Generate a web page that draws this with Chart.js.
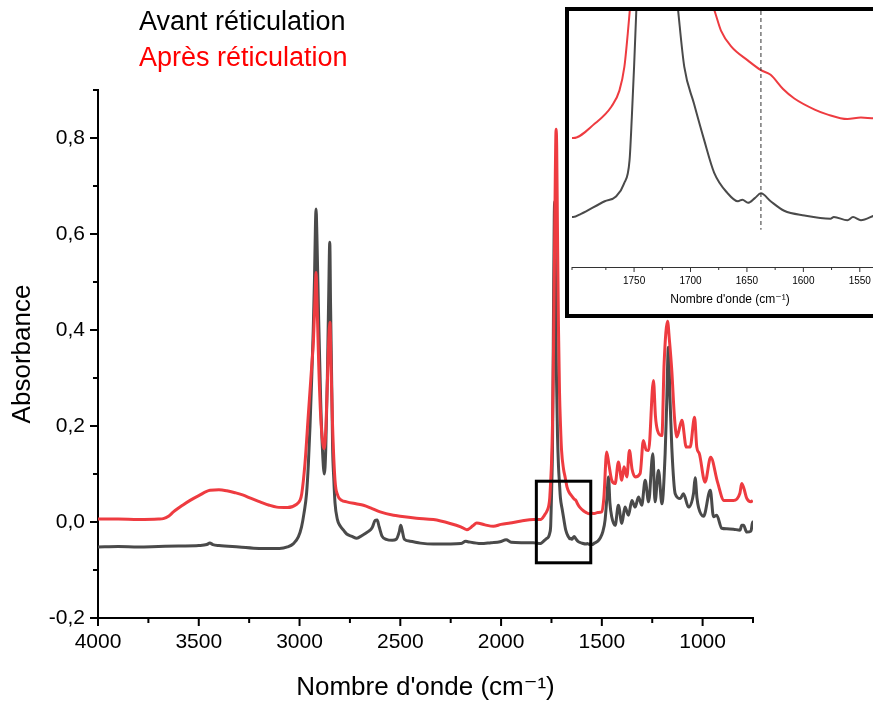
<!DOCTYPE html>
<html>
<head>
<meta charset="utf-8">
<script src="https://cdn.jsdelivr.net/npm/chart.js@4.4.1/dist/chart.umd.min.js"></script>
<style>
body { margin: 0; width: 873px; height: 703px; overflow: hidden; position: relative; background: #fff; }
#main { position: absolute; left: 0; top: 0; }
#insetBox { position: absolute; left: 565px; top: 7px; width: 330px; height: 303px; border: 4px solid #000; background: #fff; }
#inset { display: block; }
</style>
</head>
<body>
<canvas id="main" width="873" height="703"></canvas>
<div id="insetBox"><canvas id="inset" width="330" height="303"></canvas></div>
<script>
// Spectra (wavenumber in cm-1, absorbance)
const avantWn = [4000, 3900, 3800, 3700, 3600, 3500, 3460, 3445, 3430, 3400, 3300, 3200, 3100, 3060, 3030, 3006, 2990, 2978, 2965, 2956, 2948, 2940, 2932, 2926, 2921, 2918, 2914, 2905, 2895, 2885, 2877, 2870, 2862, 2855, 2850, 2846, 2840, 2836, 2830, 2824, 2812, 2799, 2780, 2766, 2740, 2716, 2690, 2660, 2640, 2625, 2615, 2605, 2590, 2570, 2540, 2520, 2505, 2498, 2492, 2480, 2452, 2400, 2337, 2250, 2200, 2175, 2165, 2100, 2050, 2005, 1975, 1950, 1900, 1840, 1804, 1797, 1776, 1766, 1759, 1754, 1752, 1750, 1748, 1745, 1742, 1739, 1736, 1734, 1732, 1729, 1725, 1720, 1715, 1711, 1705.5, 1697, 1688, 1679, 1667, 1658, 1654, 1649, 1643, 1637.6, 1629, 1617, 1599, 1576, 1573, 1561, 1556, 1549, 1537, 1520, 1509, 1495, 1484, 1475, 1467, 1460, 1451, 1434, 1418, 1401, 1385, 1368, 1351, 1335, 1318, 1302, 1285, 1268, 1247, 1236, 1219, 1202, 1186, 1178, 1170, 1162, 1153, 1136, 1111, 1095, 1070, 1045, 1037, 1028, 1020, 995, 962, 946, 930, 905, 880, 847, 814, 806, 797, 781, 760, 752, 750];
const avantAbs = [-0.052, -0.051, -0.052, -0.051, -0.050, -0.049, -0.047, -0.044, -0.047, -0.049, -0.052, -0.055, -0.055, -0.052, -0.045, -0.031, -0.010, 0.018, 0.060, 0.122, 0.200, 0.295, 0.400, 0.503, 0.620, 0.652, 0.600, 0.420, 0.250, 0.140, 0.100, 0.150, 0.300, 0.480, 0.583, 0.450, 0.280, 0.156, 0.090, 0.040, 0.005, -0.008, -0.018, -0.025, -0.030, -0.034, -0.028, -0.020, -0.012, 0.003, 0.004, -0.010, -0.030, -0.036, -0.038, -0.036, -0.020, -0.007, -0.015, -0.036, -0.040, -0.044, -0.046, -0.046, -0.045, -0.040, -0.041, -0.045, -0.043, -0.041, -0.037, -0.042, -0.043, -0.043, -0.045, -0.043, -0.035, -0.032, -0.024, -0.009, 0.018, 0.050, 0.086, 0.150, 0.300, 0.500, 0.640, 0.667, 0.620, 0.450, 0.300, 0.180, 0.115, 0.086, 0.050, 0.027, 0.004, -0.017, -0.030, -0.035, -0.034, -0.036, -0.033, -0.030, -0.035, -0.041, -0.044, -0.046, -0.045, -0.047, -0.045, -0.047, -0.044, -0.040, -0.034, -0.020, 0.004, 0.050, 0.094, 0.040, 0.011, -0.007, 0.035, -0.003, 0.031, 0.014, 0.045, 0.031, 0.052, 0.035, 0.087, 0.042, 0.142, 0.042, 0.108, 0.038, 0.142, 0.250, 0.364, 0.260, 0.156, 0.059, 0.049, 0.059, 0.031, 0.060, 0.092, 0.050, 0.030, 0.012, 0.066, 0.011, 0.014, -0.013, -0.014, -0.015, -0.017, -0.007, -0.007, -0.021, -0.019, 0.000, 0.000];

const apresWn = [4000, 3900, 3800, 3700, 3676, 3650, 3626, 3580, 3543, 3500, 3444, 3400, 3361, 3320, 3279, 3240, 3196, 3150, 3113, 3060, 3014, 2998, 2989, 2973, 2956, 2940, 2931, 2922, 2918, 2914, 2905, 2895, 2885, 2878, 2870, 2862, 2855, 2849, 2844, 2836, 2824, 2810, 2791, 2766, 2720, 2683, 2640, 2600, 2534, 2501, 2420, 2336, 2253, 2200, 2170, 2140, 2121, 2080, 2038, 2000, 1955, 1900, 1840, 1804, 1785, 1770, 1763, 1758.6, 1755.6, 1754, 1750, 1745, 1740, 1735, 1731, 1727, 1724, 1720, 1715, 1710, 1705, 1700, 1690, 1683, 1678, 1673, 1664, 1649, 1637.6, 1629, 1618, 1608, 1590, 1579, 1561, 1549, 1537, 1520, 1500, 1490, 1476, 1465, 1451, 1434, 1418, 1401, 1390, 1376, 1363, 1350, 1335, 1310, 1294, 1280, 1268, 1244, 1234, 1224, 1202, 1191, 1174, 1165, 1153, 1140, 1128, 1103, 1081, 1062, 1040, 1029, 1016, 988, 960, 926, 894, 847, 815, 806, 795, 781, 760, 751];
const apresAbs = [0.006, 0.006, 0.005, 0.006, 0.007, 0.012, 0.021, 0.035, 0.045, 0.055, 0.066, 0.067, 0.065, 0.061, 0.056, 0.049, 0.042, 0.035, 0.031, 0.030, 0.037, 0.045, 0.059, 0.122, 0.226, 0.322, 0.378, 0.480, 0.520, 0.470, 0.330, 0.220, 0.165, 0.153, 0.190, 0.290, 0.380, 0.416, 0.330, 0.200, 0.087, 0.055, 0.045, 0.042, 0.038, 0.035, 0.028, 0.021, 0.014, 0.012, 0.008, 0.005, -0.003, -0.010, -0.016, -0.008, -0.002, -0.006, -0.009, -0.005, -0.002, 0.002, 0.005, 0.005, 0.014, 0.025, 0.035, 0.050, 0.071, 0.084, 0.120, 0.200, 0.350, 0.550, 0.720, 0.818, 0.780, 0.600, 0.400, 0.270, 0.200, 0.150, 0.110, 0.095, 0.084, 0.073, 0.063, 0.054, 0.048, 0.045, 0.036, 0.030, 0.023, 0.020, 0.017, 0.018, 0.0175, 0.020, 0.021, 0.050, 0.146, 0.120, 0.087, 0.080, 0.125, 0.087, 0.115, 0.094, 0.149, 0.110, 0.094, 0.101, 0.170, 0.150, 0.149, 0.295, 0.220, 0.191, 0.180, 0.330, 0.418, 0.380, 0.316, 0.220, 0.177, 0.212, 0.156, 0.156, 0.218, 0.156, 0.142, 0.083, 0.135, 0.083, 0.045, 0.045, 0.060, 0.080, 0.070, 0.049, 0.042, 0.045];

const seriesLabels = ['Avant réticulation', 'Après réticulation'];
const lineColors = ['#4a4a4a', '#ee3b40'];
const legendColors = ['#000000', '#ff0000'];

// axis ranges and ticks
const xRange = [750, 4000];
const yRange = [-0.2, 0.9];
const zoomBox = [1825, 1555, -0.085, 0.085];   // x1, x2, y1, y2 of the framed region
const insetXRange = [1525, 1805];
const insetYRange = [-0.0766, 0.0854];
const insetMarker = [1637.6];

const FONT = "'Liberation Sans', Arial, 'DejaVu Sans', sans-serif";
const xTitle = "Nombre d'onde (cm\u207B\u00B9)";

const majorX = v => v % 500 === 0;
const majorY = v => Math.round(v * 10) % 2 === 0;
const majorInset = v => v % 50 === 0;

function toPoints(xs, ys) {
    return xs.map((x, i) => ({ x, y: ys[i] }));
}

// draws outside tick marks, long ones on labelled values
function tickMarks(tests, majorLen, minorLen, width, color) {
    return {
        id: 'tickMarks',
        afterDraw(chart) {
            const ctx = chart.ctx;
            ctx.save();
            ctx.strokeStyle = color;
            ctx.lineWidth = width;
            Object.values(chart.scales).forEach(s => {
                if (!s.options.display || !tests[s.id]) return;
                s.ticks.forEach(t => {
                    const len = tests[s.id](t.value) ? majorLen : minorLen;
                    const p = s.getPixelForValue(t.value);
                    ctx.beginPath();
                    if (s.isHorizontal()) {
                        ctx.moveTo(p, s.top);
                        ctx.lineTo(p, s.top + len);
                    } else {
                        ctx.moveTo(s.right, p);
                        ctx.lineTo(s.right - len, p);
                    }
                    ctx.stroke();
                });
            });
            ctx.restore();
        }
    };
}

const mainExtras = {
    id: 'mainExtras',
    afterDatasetsDraw(chart) {
        const { ctx, scales: { x, y } } = chart;
        ctx.save();
        ctx.strokeStyle = '#000';
        ctx.lineWidth = 3;
        const x1 = x.getPixelForValue(zoomBox[0]), x2 = x.getPixelForValue(zoomBox[1]);
        const y1 = y.getPixelForValue(zoomBox[3]), y2 = y.getPixelForValue(zoomBox[2]);
        ctx.strokeRect(x1, y1, x2 - x1, y2 - y1);
        // text legend
        ctx.font = '27px ' + FONT;
        ctx.textBaseline = 'middle';
        ctx.textAlign = 'left';
        seriesLabels.forEach((label, i) => {
            ctx.fillStyle = legendColors[i];
            ctx.fillText(label, 139, 23 + i * 36);
        });
        ctx.restore();
    }
};

const insetExtras = {
    id: 'insetExtras',
    afterDatasetsDraw(chart) {
        const { ctx, scales: { x, y } } = chart;
        ctx.save();
        ctx.strokeStyle = '#333';
        ctx.lineWidth = 1;
        ctx.setLineDash([4, 3]);
        insetMarker.forEach(m => {
            const px = x.getPixelForValue(m);
            ctx.beginPath();
            ctx.moveTo(px, 0);
            ctx.lineTo(px, y.getPixelForValue(-0.053));
            ctx.stroke();
        });
        ctx.restore();
    }
};

function makeDatasets(width) {
    return [
        { label: seriesLabels[0], data: toPoints(avantWn, avantAbs), borderColor: lineColors[0], borderWidth: width, order: 1 },
        { label: seriesLabels[1], data: toPoints(apresWn, apresAbs), borderColor: lineColors[1], borderWidth: width, order: 0 }
    ].map(d => Object.assign(d, { pointRadius: 0, cubicInterpolationMode: 'monotone', fill: false, borderJoinStyle: 'round' }));
}

new Chart(document.getElementById('main').getContext('2d'), {
    type: 'line',
    data: { datasets: makeDatasets(3) },
    options: {
        responsive: false,
        animation: false,
        devicePixelRatio: 1,
        layout: { padding: { top: 90, right: 120, left: 0, bottom: 0 } },
        plugins: { legend: { display: false }, tooltip: { enabled: false } },
        scales: {
            x: {
                type: 'linear',
                reverse: true,
                min: xRange[0],
                max: xRange[1],
                afterFit: s => { s.height = 85; },
                grid: { drawOnChartArea: false, tickLength: 8, tickColor: 'rgba(0,0,0,0)' },
                border: { color: '#000', width: 2 },
                ticks: {
                    stepSize: 250, autoSkip: false, maxRotation: 0, padding: 4,
                    color: '#000', font: { family: FONT, size: 21 },
                    callback: v => majorX(v) ? String(v) : ''
                },
                title: { display: true, text: xTitle, color: '#000', font: { family: FONT, size: 26 }, padding: { top: 0, bottom: 0 } }
            },
            y: {
                min: yRange[0],
                max: yRange[1],
                afterFit: s => { s.width = 98; },
                grid: { drawOnChartArea: false, tickLength: 8, tickColor: 'rgba(0,0,0,0)' },
                border: { color: '#000', width: 2 },
                ticks: {
                    stepSize: 0.1, autoSkip: false, padding: 5,
                    color: '#000', font: { family: FONT, size: 21 },
                    callback: v => majorY(v) ? v.toFixed(1).replace('.', ',') : ''
                },
                title: { display: true, text: 'Absorbance', color: '#000', font: { family: FONT, size: 26 }, padding: { top: 7, bottom: 0 } }
            }
        }
    },
    plugins: [tickMarks({ x: majorX, y: majorY }, 8, 5, 2, '#000'), mainExtras]
});

new Chart(document.getElementById('inset').getContext('2d'), {
    type: 'line',
    data: { datasets: makeDatasets(2) },
    options: {
        responsive: false,
        animation: false,
        devicePixelRatio: 1,
        layout: { padding: { top: 0, right: 11, left: 3, bottom: 0 } },
        plugins: { legend: { display: false }, tooltip: { enabled: false } },
        scales: {
            x: {
                type: 'linear',
                reverse: true,
                min: insetXRange[0],
                max: insetXRange[1],
                afterFit: s => { s.height = 47; },
                grid: { drawOnChartArea: false, tickLength: 5, tickColor: 'rgba(0,0,0,0)' },
                border: { color: '#333', width: 1 },
                ticks: {
                    stepSize: 25, autoSkip: false, maxRotation: 0, padding: 3,
                    color: '#000', font: { family: FONT, size: 10 },
                    callback: v => majorInset(v) ? String(v) : ''
                },
                title: { display: true, text: xTitle, color: '#000', font: { family: FONT, size: 12 }, padding: { top: 0, bottom: 7 } }
            },
            y: { display: false, min: insetYRange[0], max: insetYRange[1] }
        }
    },
    plugins: [tickMarks({ x: majorInset }, 5, 3, 1, '#333'), insetExtras]
});
</script>
</body>
</html>
